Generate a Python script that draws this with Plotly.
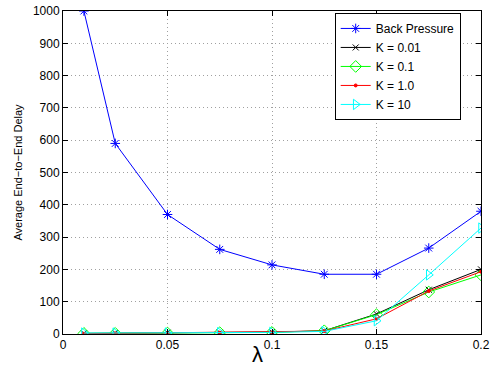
import plotly.graph_objects as go

lam = [0.01, 0.025, 0.05, 0.075, 0.1, 0.125, 0.15, 0.175, 0.2]
back_pressure = [1000, 590, 370, 262, 214, 185, 185, 266, 380]
k001 = [2, 3, 4, 5, 6, 10, 62, 137, 200]
k01 = [2, 2, 3, 4, 5, 10, 60, 130, 183]
k1 = [1, 2, 3, 4, 5, 9, 47, 133, 193]
k10 = [3, 3, 3, 4, 5, 8, 41, 183, 328]

names = ["Back Pressure", "K = 0.01", "K = 0.1", "K = 1.0", "K = 10"]
series = [back_pressure, k001, k01, k1, k10]
colors = ["#0000ff", "#000000", "#00ff00", "#ff0000", "#00ffff"]
symbols = ["asterisk-open", "x-thin-open", "diamond-open", "circle", "triangle-right-open"]
sizes = [8, 6, 9, 3, 9]

fig = go.Figure()
for n, s, c, sym, sz in zip(names, series, colors, symbols, sizes):
    fig.add_trace(go.Scatter(
        x=lam, y=s, name=n, mode="lines+markers",
        line=dict(color=c, width=1),
        marker=dict(symbol=sym, size=sz, color=c, line=dict(color=c, width=1)),
    ))

axis_common = dict(
    showline=True, linecolor="black", linewidth=1, mirror="ticks",
    ticks="inside", ticklen=5, tickcolor="black",
    showgrid=True, gridcolor="#a0a0a0", griddash="1px,3px", gridwidth=1,
    zeroline=False, tickfont=dict(size=12, color="black"),
    ticklabeloverflow="allow",
)

fig.update_layout(
    width=495, height=371,
    margin=dict(l=63, r=14, t=4, b=37),
    paper_bgcolor="white", plot_bgcolor="white",
    font=dict(family="Liberation Sans, Arial, sans-serif", size=12, color="black"),
    xaxis=dict(range=[0, 0.2], tickvals=[0, 0.05, 0.1, 0.15, 0.2],
               ticktext=["0", "0.05", "0.1", "0.15", "0.2"], **axis_common),
    yaxis=dict(range=[0, 1000], dtick=100,
               title=dict(text="Average End\u2212to\u2212End Delay", font=dict(size=11), standoff=8),
               **axis_common),
    legend=dict(x=0.65, y=0.994, xanchor="left", yanchor="top",
                bgcolor="white", bordercolor="black", borderwidth=1,
                font=dict(size=12), tracegroupgap=0),
    showlegend=True,
    annotations=[dict(text="λ", xref="paper", yref="paper", x=0.465, y=-0.02,
                      xanchor="center", yanchor="top", showarrow=False,
                      font=dict(size=22, color="black"))],
)

fig.write_html("out.html")
